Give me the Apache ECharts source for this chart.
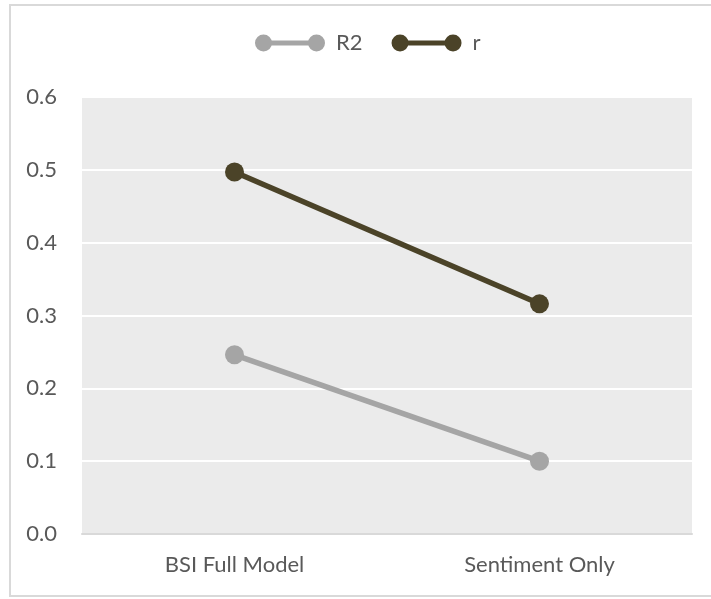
<!DOCTYPE html>
<html>
<head>
<meta charset="utf-8">
<script src="https://cdn.jsdelivr.net/npm/echarts@6/dist/echarts.min.js"></script>
<style>
  html, body { margin: 0; padding: 0; background: #ffffff; }
  #chart { width: 711px; height: 599px; }
</style>
</head>
<body>
<div id="chart"></div>
<script>
// Model comparison: R2 and r for each model variant
const categories = ['BSI Full Model', 'Sentiment Only'];
const r2Values = [0.246, 0.1];
const rValues = [0.497, 0.316];
const yTicks = { min: 0, max: 0.6, interval: 0.1 };

// Legend icon: a short line with a dot at each end
const dumbbell = 'path://M0,8.5A8.5,8.5 0 1 1 17,8.5A8.5,8.5 0 1 1 0,8.5Z' +
  'M53,8.5A8.5,8.5 0 1 1 70,8.5A8.5,8.5 0 1 1 53,8.5Z' +
  'M8,6L62,6L62,11L8,11Z';

const textColor = '#595959';
const fontFamily = 'Lato, "Open Sans", sans-serif';

const chart = echarts.init(document.getElementById('chart'), null, { renderer: 'canvas' });

chart.setOption({
  backgroundColor: '#ffffff',
  animation: false,
  graphic: [{
    type: 'rect',
    silent: true,
    z: -10,
    shape: { x: 10, y: 5, width: 710, height: 591 },
    style: { fill: 'none', stroke: '#D9D9D9', lineWidth: 2 }
  }],
  legend: {
    left: 250,
    top: 27,
    itemWidth: 70,
    itemHeight: 17,
    itemGap: 29,
    textStyle: {
      color: textColor,
      fontFamily: fontFamily,
      fontSize: 22,
      padding: [0, 0, 0, 6]
    },
    data: [
      { name: 'R2', icon: dumbbell, itemStyle: { color: '#A5A5A5' } },
      { name: 'r', icon: dumbbell, itemStyle: { color: '#4B4328' } }
    ]
  },
  grid: {
    left: 82,
    right: 19,
    top: 97,
    bottom: 65,
    show: true,
    backgroundColor: '#EBEBEB',
    borderWidth: 0
  },
  xAxis: {
    type: 'category',
    data: categories,
    boundaryGap: true,
    axisLine: { show: true, lineStyle: { color: '#D9D9D9', width: 2 } },
    axisTick: { show: false },
    axisLabel: {
      color: textColor,
      fontFamily: fontFamily,
      fontSize: 22,
      margin: 20
    },
    splitLine: { show: false }
  },
  yAxis: {
    type: 'value',
    min: yTicks.min,
    max: yTicks.max,
    interval: yTicks.interval,
    axisLine: { show: false },
    axisTick: { show: false },
    axisLabel: {
      color: textColor,
      fontFamily: fontFamily,
      fontSize: 22,
      margin: 25,
      formatter: v => v.toFixed(1)
    },
    splitLine: { show: true, lineStyle: { color: '#ffffff', width: 2 } }
  },
  series: [
    {
      name: 'R2',
      type: 'line',
      data: r2Values,
      symbol: 'circle',
      symbolSize: 19,
      itemStyle: { color: '#A5A5A5' },
      lineStyle: { color: '#A5A5A5', width: 5.5 }
    },
    {
      name: 'r',
      type: 'line',
      data: rValues,
      symbol: 'circle',
      symbolSize: 19,
      itemStyle: { color: '#4B4328' },
      lineStyle: { color: '#4B4328', width: 5.5 }
    }
  ]
});
</script>
</body>
</html>
